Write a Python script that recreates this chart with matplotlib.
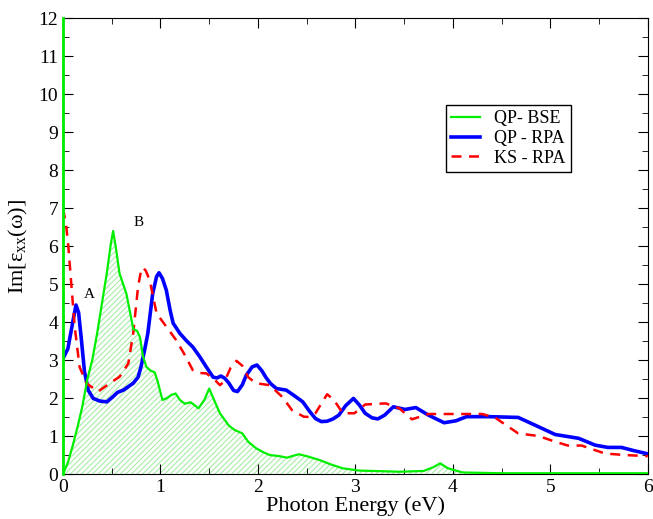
import matplotlib
matplotlib.use("Agg")
import matplotlib.pyplot as plt
from matplotlib.ticker import MultipleLocator

plt.rcParams['font.family'] = ['Liberation Serif', 'DejaVu Serif']
plt.rcParams['mathtext.fontset'] = 'custom'
plt.rcParams['mathtext.rm'] = 'Liberation Serif'
plt.rcParams['mathtext.it'] = 'Liberation Serif'
plt.rcParams['hatch.linewidth'] = 0.8

# QP-BSE (green, hatched)
bse_x = [0.0, 0.0, 0.05, 0.1, 0.15, 0.2, 0.25, 0.3, 0.35, 0.4, 0.45, 0.49, 0.514, 0.54, 0.58,
         0.65, 0.70, 0.72, 0.76, 0.79, 0.82, 0.856, 0.90, 0.94, 0.97, 1.02, 1.06, 1.11,
         1.155, 1.20, 1.25, 1.31, 1.39, 1.45, 1.50, 1.55, 1.61, 1.70, 1.76, 1.84, 1.90,
         1.98, 2.05, 2.12, 2.22, 2.30, 2.36, 2.42, 2.50, 2.63, 2.75, 2.87, 3.04, 3.45,
         3.70, 3.80, 3.87, 3.95, 4.10, 4.50, 5.00, 6.00]
bse_y = [12.0, 0.0, 0.3, 0.75, 1.25, 1.8, 2.5, 3.0, 3.7, 4.5, 5.3, 6.05, 6.40, 6.0, 5.28,
         4.75, 4.1, 3.82, 3.77, 3.6, 3.1, 2.82, 2.72, 2.68, 2.45, 1.95, 1.99, 2.08,
         2.12, 1.95, 1.85, 1.89, 1.73, 1.95, 2.25, 1.95, 1.60, 1.28, 1.16, 1.07, 0.85,
         0.68, 0.58, 0.50, 0.47, 0.43, 0.48, 0.52, 0.47, 0.37, 0.25, 0.15, 0.09, 0.06,
         0.08, 0.18, 0.28, 0.15, 0.04, 0.02, 0.02, 0.02]

# QP-RPA (blue)
qp_x = [0.0, 0.05, 0.1, 0.133, 0.16, 0.19, 0.22, 0.26, 0.31, 0.38, 0.45, 0.51, 0.56, 0.62,
        0.72, 0.77, 0.80, 0.84, 0.87, 0.92, 0.96, 0.985, 1.02, 1.06, 1.10, 1.13, 1.20,
        1.27, 1.33, 1.40, 1.47, 1.54, 1.58, 1.62, 1.66, 1.70, 1.75, 1.79, 1.84, 1.88,
        1.94, 1.99, 2.04, 2.08, 2.13, 2.19, 2.29, 2.38, 2.46, 2.53, 2.59, 2.65, 2.71,
        2.77, 2.83, 2.90, 2.98, 3.04, 3.10, 3.17, 3.23, 3.30, 3.39, 3.51, 3.62, 3.75,
        3.91, 4.03, 4.14, 4.37, 4.67, 4.84, 5.05, 5.29, 5.46, 5.59, 5.73, 5.85, 6.0]
qp_y = [3.04, 3.3, 4.0, 4.45, 4.25, 3.5, 2.7, 2.2, 1.99, 1.92, 1.90, 2.03, 2.15, 2.21,
        2.39, 2.55, 2.82, 3.3, 3.7, 4.75, 5.2, 5.30, 5.15, 4.84, 4.3, 3.97, 3.70,
        3.50, 3.35, 3.1, 2.82, 2.55, 2.53, 2.58, 2.52, 2.40, 2.20, 2.17, 2.35, 2.60,
        2.82, 2.87, 2.72, 2.55, 2.38, 2.25, 2.21, 2.05, 1.90, 1.65, 1.46, 1.38, 1.39,
        1.45, 1.55, 1.80, 1.99, 1.82, 1.60, 1.48, 1.45, 1.55, 1.77, 1.70, 1.75, 1.55,
        1.35, 1.40, 1.51, 1.51, 1.49, 1.29, 1.04, 0.94, 0.76, 0.70, 0.70, 0.62, 0.53]

# KS-RPA (red dashed)
ks_x = [0.0, 0.03, 0.055, 0.09, 0.12, 0.17, 0.24, 0.36, 0.48, 0.58, 0.67, 0.72, 0.77,
        0.80, 0.82, 0.85, 0.89, 0.96, 1.06, 1.16, 1.26, 1.33, 1.40, 1.47, 1.55, 1.61,
        1.66, 1.72, 1.78, 1.84, 1.90, 1.98, 2.12, 2.25, 2.35, 2.47, 2.53, 2.59, 2.65,
        2.71, 2.78, 2.87, 2.99, 3.10, 3.31, 3.45, 3.58, 3.75, 4.30, 4.43, 4.67, 4.88,
        5.05, 5.18, 5.32, 5.56, 5.76, 6.0]
ks_y = [6.99, 6.6, 5.98, 4.84, 3.88, 2.82, 2.39, 2.17, 2.39, 2.56, 2.91, 3.70, 4.93,
        5.35, 5.44, 5.35, 5.1, 4.23, 3.88, 3.53, 3.09, 2.74, 2.66, 2.65, 2.50, 2.34,
        2.45, 2.80, 2.98, 2.85, 2.55, 2.39, 2.34, 2.03, 1.68, 1.51, 1.50, 1.60, 1.85,
        2.10, 1.95, 1.60, 1.60, 1.83, 1.86, 1.73, 1.44, 1.58, 1.58, 1.49, 1.07, 1.00,
        0.85, 0.75, 0.75, 0.54, 0.50, 0.47]

fig = plt.figure(figsize=(6.53, 5.19), dpi=100)
ax = fig.add_axes([0.0965, 0.0867, 0.8955, 0.878])

ax.fill_between(bse_x, 0, bse_y, facecolor='none', edgecolor='#a8eca8',
                hatch='//////', linewidth=0)
ax.plot(bse_x, bse_y, color='#00ee00', lw=1.6, label='QP- BSE', zorder=5)
ax.plot(qp_x, qp_y, color='#0000ff', lw=2.6, label='QP - RPA', zorder=4)
ax.plot(ks_x, ks_y, color='#ff0000', lw=1.8, ls=(0, (4, 3)), label='KS - RPA', zorder=4)
# green edge at x = 0 drawn over the axis spine
ax.plot([0, 0], [0, 12], color='#00ee00', lw=2.0, clip_on=False, zorder=6)

ax.text(0.21, 4.63, 'A', fontsize=11)
ax.text(0.72, 6.53, 'B', fontsize=11)

ax.set_xlim(0, 6)
ax.set_ylim(0, 12)
ax.xaxis.set_major_locator(MultipleLocator(1))
ax.xaxis.set_minor_locator(MultipleLocator(0.5))
ax.yaxis.set_major_locator(MultipleLocator(1))
ax.yaxis.set_minor_locator(MultipleLocator(0.5))
ax.tick_params(which='both', direction='in', top=True, right=True, labelsize=14)
ax.tick_params(which='major', length=7)
ax.tick_params(which='minor', length=4)

ax.set_xlabel('Photon Energy (eV)', fontsize=16, labelpad=0)
ax.set_ylabel(r'Im[$\mathrm{\varepsilon_{xx}}$($\mathrm{\omega}$)]', fontsize=16, labelpad=6)

ax.legend(loc='upper left', bbox_to_anchor=(0.639, 0.83), fontsize=13,
          frameon=True, fancybox=False, edgecolor='black', framealpha=1,
          handlelength=1.6, borderpad=0.3, labelspacing=0.15)

fig.savefig('out.png', dpi=100)
